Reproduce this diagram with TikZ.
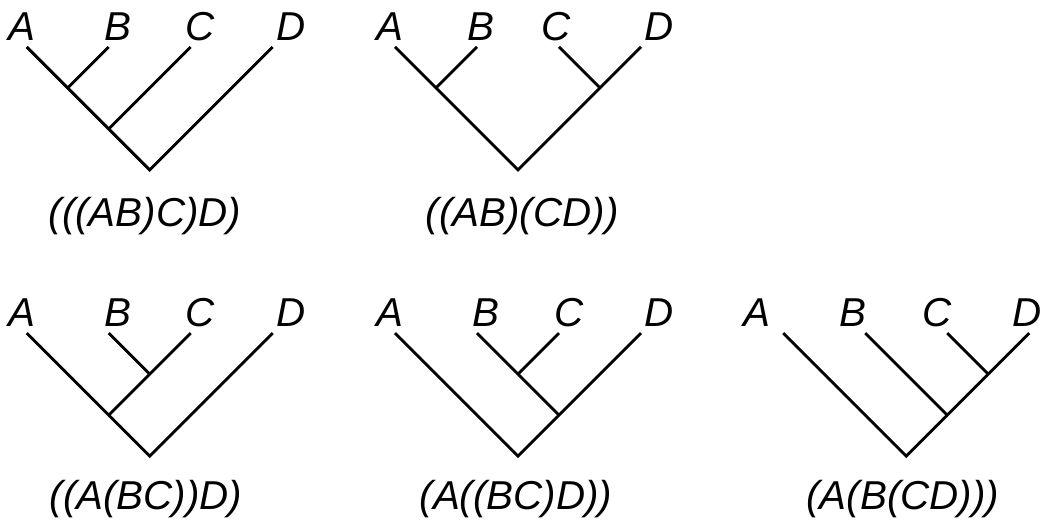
\documentclass[tikz,border=0pt]{standalone}
\usepackage{fontspec}
\setmainfont{Liberation Sans}
\begin{document}
\begin{tikzpicture}[line width=2pt, line join=miter,
  leaf/.style={anchor=base, inner sep=0pt, font=\fontsize{28}{30}\selectfont\itshape},
  bracketing/.style={anchor=base, inner sep=0pt, font=\fontsize{28}{30}\selectfont\itshape}]
  \useasboundingbox (0,0) rectangle (25.488,12.805);

  % (((AB)C)D)
  \begin{scope}[shift={(0.651,11.66)}]
    \foreach \x/\t in {0/a, 2/b, 4/c, 6/d}
      \coordinate (\t) at (\x,0);
    \coordinate (ab) at (1,-1);
    \coordinate (abc) at (2,-2);
    \coordinate (r) at (3,-3);
    \draw (a) -- (r) -- (d);
    \draw (b) -- (ab);
    \draw (c) -- (abc);
    \foreach \x/\t in {-0.12/A, 2.23/B, 4.23/C, 6.44/D}
      \node[leaf] (\t1) at (\x,0.15) {\t};
    \node[bracketing] (t1) at (2.886,-4.37) {(((AB)C)D)};
  \end{scope}

  % ((AB)(CD))
  \begin{scope}[shift={(9.634,11.66)}]
    \foreach \x/\t in {0/a, 2/b, 4/c, 6/d}
      \coordinate (\t) at (\x,0);
    \coordinate (ab) at (1,-1);
    \coordinate (cd) at (5,-1);
    \coordinate (r) at (3,-3);
    \draw (a) -- (r) -- (d);
    \draw (b) -- (ab);
    \draw (c) -- (cd);
    \foreach \x/\t in {-0.12/A, 2.10/B, 3.94/C, 6.45/D}
      \node[leaf] (\t2) at (\x,0.15) {\t};
    \node[bracketing] (t2) at (3.10,-4.37) {((AB)(CD))};
  \end{scope}

  % ((A(BC))D)
  \begin{scope}[shift={(0.651,4.68)}]
    \foreach \x/\t in {0/a, 2/b, 4/c, 6/d}
      \coordinate (\t) at (\x,0);
    \coordinate (bc) at (3,-1);
    \coordinate (abc) at (2,-2);
    \coordinate (r) at (3,-3);
    \draw (a) -- (r) -- (d);
    \draw (b) -- (bc);
    \draw (c) -- (abc);
    \foreach \x/\t in {-0.12/A, 2.23/B, 4.23/C, 6.44/D}
      \node[leaf] (\t3) at (\x,0.17) {\t};
    \node[bracketing] (t3) at (2.91,-4.31) {((A(BC))D)};
  \end{scope}

  % (A((BC)D))
  \begin{scope}[shift={(9.634,4.68)}]
    \foreach \x/\t in {0/a, 2/b, 4/c, 6/d}
      \coordinate (\t) at (\x,0);
    \coordinate (bc) at (3,-1);
    \coordinate (bcd) at (4,-2);
    \coordinate (r) at (3,-3);
    \draw (a) -- (r) -- (d);
    \draw (b) -- (bcd);
    \draw (c) -- (bc);
    \foreach \x/\t in {-0.12/A, 2.21/B, 4.24/C, 6.45/D}
      \node[leaf] (\t4) at (\x,0.17) {\t};
    \node[bracketing] (t4) at (2.95,-4.31) {(A((BC)D))};
  \end{scope}

  % (A(B(CD)))
  \begin{scope}[shift={(19.105,4.68)}]
    \foreach \x/\t in {0/a, 2/b, 4/c, 6/d}
      \coordinate (\t) at (\x,0);
    \coordinate (cd) at (5,-1);
    \coordinate (bcd) at (4,-2);
    \coordinate (r) at (3,-3);
    \draw (a) -- (r) -- (d);
    \draw (b) -- (bcd);
    \draw (c) -- (cd);
    \foreach \x/\t in {-0.65/A, 1.71/B, 3.74/C, 5.94/D}
      \node[leaf] (\t5) at (\x,0.17) {\t};
    \node[bracketing] (t5) at (2.915,-4.31) {(A(B(CD)))};
  \end{scope}
\end{tikzpicture}
\end{document}
